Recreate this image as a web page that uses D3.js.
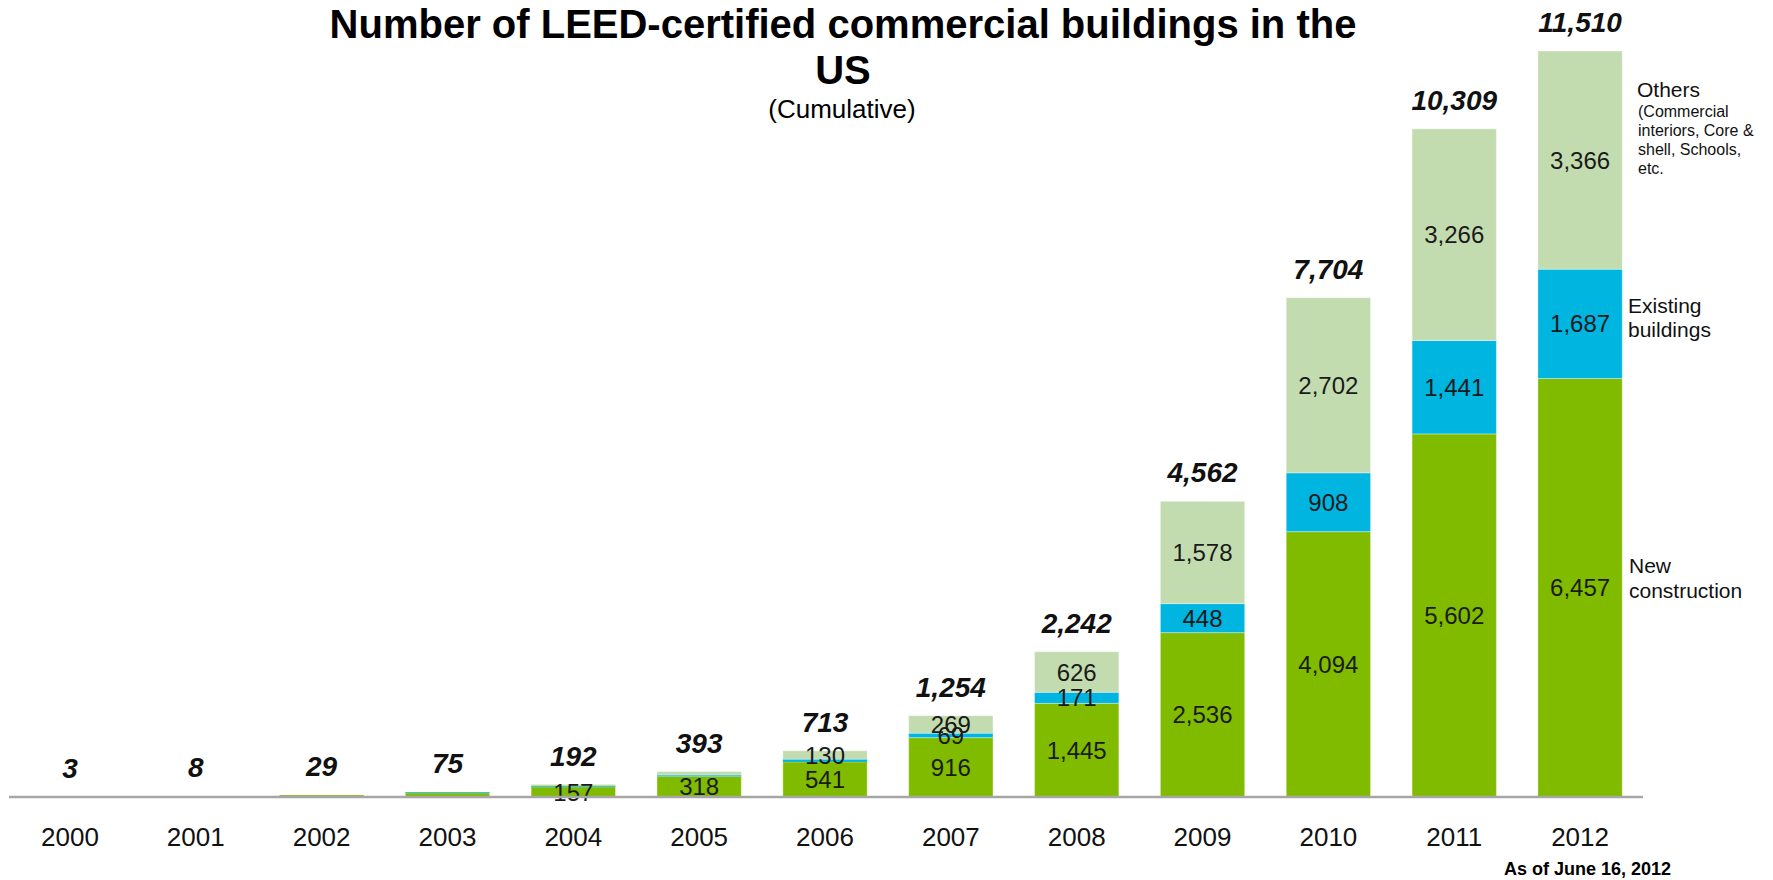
<!DOCTYPE html>
<html><head><meta charset="utf-8">
<script src="https://cdn.jsdelivr.net/npm/d3@7"></script>
<style>body{margin:0;background:#fff;} svg{display:block;font-family:"Liberation Sans",Arial,sans-serif;}</style>
</head><body>
<svg id="c" width="1773" height="880"></svg>
<script>
const years = ["2000","2001","2002","2003","2004","2005","2006","2007","2008","2009","2010","2011","2012"];
const newConstruction = [3, 8, 29, 63, 157, 318, 541, 916, 1445, 2536, 4094, 5602, 6457];
const existingBuildings = [0, 0, 0, 12, 12, 20, 42, 69, 171, 448, 908, 1441, 1687];
const others = [0, 0, 0, 0, 23, 55, 130, 269, 626, 1578, 2702, 3266, 3366];
const totals = [3, 8, 29, 75, 192, 393, 713, 1254, 2242, 4562, 7704, 10309, 11510];
// which segment labels are shown
const showNew = [false,false,false,false,true,true,true,true,true,true,true,true,true];
const showExisting = [false,false,false,false,false,false,false,true,true,true,true,true,true];
const showOthers = [false,false,false,false,false,false,true,true,true,true,true,true,true];
const seriesKeys = ["newConstruction","existingBuildings","others"];
const seriesColors = ["#80BB00","#00B5E0","#C3DCAF"];

const table = years.map((y,i)=>({year:y,newConstruction:newConstruction[i],existingBuildings:existingBuildings[i],others:others[i],total:totals[i],
  show:{newConstruction:showNew[i],existingBuildings:showExisting[i],others:showOthers[i]}}));

const svg = d3.select("#c");
const x = d3.scaleBand().domain(years).range([7,1643]).paddingInner(0.33).paddingOuter(0.165);
const y = d3.scaleLinear().domain([0,11510]).range([797,51]);
const fmt = d3.format(",");

const stack = d3.stack().keys(seriesKeys)(table);

const g = svg.append("g");
stack.forEach((layer,li)=>{
  g.selectAll(null).data(layer).enter().append("rect")
    .attr("x",d=>x(d.data.year))
    .attr("width",x.bandwidth())
    .attr("y",d=>y(d[1]))
    .attr("height",d=>Math.max(0,y(d[0])-y(d[1])))
    .attr("fill",seriesColors[li])
    .attr("stroke", d=> (y(d[0])-y(d[1]))>3 ? "rgba(255,255,255,0.35)" : "none")
    .attr("stroke-width",1);
});
// segment labels
stack.forEach((layer,li)=>{
  g.selectAll(null).data(layer.filter(d=>d.data.show[seriesKeys[li]])).enter().append("text")
    .attr("x",d=>x(d.data.year)+x.bandwidth()/2)
    .attr("y",d=>(y(d[0])+y(d[1]))/2)
    .attr("dy","0.36em")
    .attr("text-anchor","middle")
    .attr("font-size",24)
    .attr("fill","#1a1a1a")
    .text(d=>fmt(d[1]-d[0]));
});
// totals
g.selectAll(null).data(table).enter().append("text")
  .attr("x",d=>x(d.year)+x.bandwidth()/2)
  .attr("y",d=>y(d.total)-19)
  .attr("text-anchor","middle")
  .attr("font-size",28)
  .attr("font-weight","bold")
  .attr("font-style","italic")
  .attr("fill","#111")
  .text(d=>fmt(d.total));

// x axis
const axis = svg.append("g").attr("transform","translate(0,797)")
  .call(d3.axisBottom(x).tickSize(0).tickPadding(0));
axis.select(".domain").attr("stroke","#A6A6A6").attr("stroke-width",2.5).attr("d","M9,0H1643");
axis.selectAll(".tick text").attr("font-size",26).attr("fill","#111")
  .attr("font-family","\"Liberation Sans\",Arial,sans-serif").attr("y",49).attr("dy",0);

// title
svg.append("text").attr("x",843).attr("y",38).attr("text-anchor","middle")
  .attr("font-size",40).attr("font-weight","bold").attr("fill","#000")
  .text("Number of LEED-certified commercial buildings in the");
svg.append("text").attr("x",843).attr("y",84).attr("text-anchor","middle")
  .attr("font-size",40).attr("font-weight","bold").attr("fill","#000").text("US");
svg.append("text").attr("x",842).attr("y",118).attr("text-anchor","middle")
  .attr("font-size",26).attr("fill","#000").text("(Cumulative)");

// legend labels
const leg = svg.append("g").attr("fill","#111");
leg.append("text").attr("x",1637).attr("y",97).attr("font-size",21).text("Others");
["(Commercial","interiors, Core &","shell, Schools,","etc."].forEach((t,i)=>{
  leg.append("text").attr("x",1638).attr("y",117+i*19).attr("font-size",16).text(t);
});
leg.append("text").attr("x",1628).attr("y",313).attr("font-size",21).text("Existing");
leg.append("text").attr("x",1628).attr("y",337).attr("font-size",21).text("buildings");
leg.append("text").attr("x",1629).attr("y",573).attr("font-size",21).text("New");
leg.append("text").attr("x",1629).attr("y",598).attr("font-size",21).text("construction");

svg.append("text").attr("x",1671).attr("y",875).attr("text-anchor","end")
  .attr("font-size",18).attr("font-weight","bold").attr("fill","#000").text("As of June 16, 2012");
</script>
</body></html>
